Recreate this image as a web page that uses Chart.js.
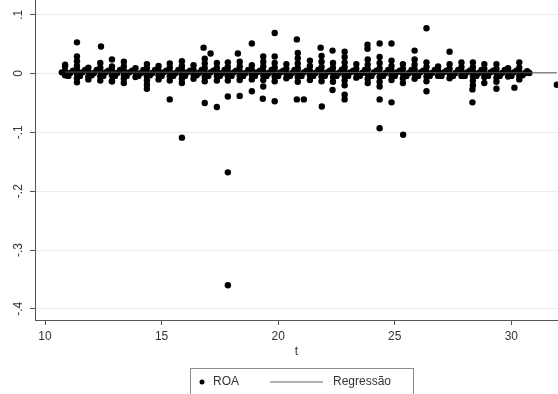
<!DOCTYPE html>
<html>
<head>
<meta charset="utf-8">
<script src="https://cdn.jsdelivr.net/npm/chart.js@4/dist/chart.umd.min.js"></script>
<style>
  body { margin: 0; background: #fff; }
  #wrap { width: 558px; height: 394px; }
</style>
</head>
<body>
<div id="wrap"><canvas id="chart" width="558" height="394"></canvas></div>
<script>
// ROA by t: the dense band around zero, one row per t cluster
const bandPoints = [
  [10.86, 0.004], [10.86, 0.012], [10.86, -0.003], [10.72, 0.002], [11.08, 0.001],
  [11.37, 0.029], [11.37, 0.021], [11.37, 0.013], [11.37, 0.006], [11.37, -0.001], [11.37, -0.008], [11.37, -0.015], [11.6, 0.002],
  [11.86, 0.010], [11.86, 0.003], [11.86, -0.005], [11.86, -0.010], [12.1, 0.001],
  [12.37, 0.018], [12.37, 0.010], [12.37, 0.003], [12.37, -0.005], [12.37, -0.012], [12.6, 0.002],
  [12.87, 0.012], [12.87, 0.005], [12.87, -0.003], [12.87, -0.013], [13.1, 0.001],
  [13.38, 0.020], [13.38, 0.012], [13.38, 0.005], [13.38, -0.002], [13.38, -0.009], [13.38, -0.016], [13.62, 0.002],
  [13.88, 0.009], [13.88, 0.002], [13.88, -0.006], [14.12, 0.001],
  [14.37, 0.016], [14.37, 0.009], [14.37, 0.002], [14.37, -0.005], [14.37, -0.012], [14.37, -0.019], [14.37, -0.026], [14.6, 0.001],
  [14.87, 0.013], [14.87, 0.005], [14.87, -0.003], [14.87, -0.010], [15.1, 0.002],
  [15.35, 0.017], [15.35, 0.010], [15.35, 0.003], [15.35, -0.005], [15.35, -0.012], [15.6, 0.001],
  [15.87, 0.021], [15.87, 0.013], [15.87, 0.006], [15.87, -0.002], [15.87, -0.009], [15.87, -0.016], [16.1, 0.002],
  [16.37, 0.014], [16.37, 0.006], [16.37, -0.002], [16.37, -0.009], [16.6, 0.001],
  [16.85, 0.025], [16.85, 0.017], [16.85, 0.009], [16.85, 0.002], [16.85, -0.006], [16.85, -0.013], [17.1, 0.002],
  [17.37, 0.018], [17.37, 0.010], [17.37, 0.003], [17.37, -0.004], [17.37, -0.012], [17.6, 0.001],
  [17.84, 0.019], [17.84, 0.011], [17.84, 0.004], [17.84, -0.004], [17.84, -0.012], [18.1, 0.002],
  [18.35, 0.020], [18.35, 0.012], [18.35, 0.004], [18.35, -0.004], [18.35, -0.011], [18.6, 0.001],
  [18.87, 0.014], [18.87, 0.006], [18.87, -0.002], [18.87, -0.010], [19.1, 0.002],
  [19.36, 0.029], [19.36, 0.020], [19.36, 0.012], [19.36, 0.004], [19.36, -0.003], [19.36, -0.011], [19.36, -0.022], [19.6, 0.001],
  [19.85, 0.029], [19.85, 0.018], [19.85, 0.010], [19.85, 0.003], [19.85, -0.005], [19.85, -0.013], [20.1, 0.002],
  [20.35, 0.016], [20.35, 0.008], [20.35, 0.000], [20.35, -0.008], [20.6, 0.001],
  [20.84, 0.035], [20.84, 0.026], [20.84, 0.017], [20.84, 0.009], [20.84, 0.002], [20.84, -0.006], [20.84, -0.014], [21.1, 0.002],
  [21.36, 0.022], [21.36, 0.013], [21.36, 0.005], [21.36, -0.003], [21.36, -0.011], [21.6, 0.001],
  [21.86, 0.030], [21.86, 0.020], [21.86, 0.011], [21.86, 0.003], [21.86, -0.005], [21.86, -0.013], [22.1, 0.002],
  [22.35, 0.018], [22.35, 0.010], [22.35, 0.002], [22.35, -0.006], [22.35, -0.014], [22.6, 0.001],
  [22.85, 0.028], [22.85, 0.019], [22.85, 0.011], [22.85, 0.004], [22.85, -0.004], [22.85, -0.012], [22.85, -0.020], [23.1, 0.002],
  [23.35, 0.016], [23.35, 0.008], [23.35, 0.001], [23.35, -0.007], [23.6, 0.001],
  [23.84, 0.024], [23.84, 0.015], [23.84, 0.007], [23.84, -0.001], [23.84, -0.009], [23.84, -0.016], [24.1, 0.002],
  [24.35, 0.028], [24.35, 0.018], [24.35, 0.009], [24.35, 0.002], [24.35, -0.006], [24.35, -0.014], [24.35, -0.022], [24.6, 0.001],
  [24.86, 0.022], [24.86, 0.013], [24.86, 0.005], [24.86, -0.003], [24.86, -0.011], [25.1, 0.002],
  [25.35, 0.016], [25.35, 0.008], [25.35, 0.000], [25.35, -0.008], [25.35, -0.016], [25.6, 0.001],
  [25.85, 0.024], [25.85, 0.015], [25.85, 0.007], [25.85, -0.001], [25.85, -0.009], [26.1, 0.002],
  [26.36, 0.019], [26.36, 0.011], [26.36, 0.003], [26.36, -0.005], [26.36, -0.013], [26.6, 0.001],
  [26.86, 0.012], [26.86, 0.004], [26.86, -0.004], [27.1, 0.002],
  [27.35, 0.016], [27.35, 0.008], [27.35, 0.000], [27.35, -0.008], [27.6, 0.001],
  [27.86, 0.019], [27.86, 0.011], [27.86, 0.004], [27.86, -0.004], [28.1, 0.002],
  [28.35, 0.019], [28.35, 0.011], [28.35, 0.004], [28.35, -0.004], [28.35, -0.012], [28.35, -0.020], [28.6, 0.001],
  [28.84, 0.016], [28.84, 0.008], [28.84, 0.000], [28.84, -0.006], [29.1, 0.002],
  [29.36, 0.016], [29.36, 0.008], [29.36, 0.001], [29.36, -0.007], [29.36, -0.014], [29.6, 0.001],
  [29.86, 0.009], [29.86, 0.002], [29.86, -0.005], [30.1, 0.002],
  [30.34, 0.019], [30.34, 0.010], [30.34, 0.003], [30.34, -0.004], [30.34, -0.010], [30.6, 0.001], [30.77, 0.001]
];

// extra ROA points that fill the band between clusters
const bridgePoints = [
  [11.0, -0.004], [11.2, 0.005], [11.5, -0.004], [11.72, 0.006], [12.0, -0.003], [12.22, 0.006],
  [12.5, -0.004], [12.72, 0.005], [13.0, -0.004], [13.22, 0.006], [13.5, -0.004], [13.74, 0.005],
  [14.0, -0.004], [14.22, 0.006], [14.5, -0.003], [14.72, 0.006], [15.0, -0.004], [15.2, 0.005],
  [15.5, -0.004], [15.72, 0.006], [16.0, -0.004], [16.22, 0.005], [16.5, -0.003], [16.72, 0.006],
  [17.0, -0.004], [17.22, 0.005], [17.5, -0.004], [17.7, 0.006], [18.0, -0.004], [18.2, 0.005],
  [18.5, -0.004], [18.72, 0.006], [19.0, -0.004], [19.22, 0.005], [19.5, -0.004], [19.72, 0.006],
  [20.0, -0.004], [20.22, 0.005], [20.5, -0.004], [20.7, 0.006], [21.0, -0.004], [21.22, 0.005],
  [21.5, -0.004], [21.72, 0.006], [22.0, -0.004], [22.22, 0.005], [22.5, -0.004], [22.72, 0.006],
  [23.0, -0.004], [23.22, 0.005], [23.5, -0.004], [23.72, 0.006], [24.0, -0.004], [24.22, 0.005],
  [24.5, -0.004], [24.72, 0.006], [25.0, -0.004], [25.22, 0.005], [25.5, -0.004], [25.72, 0.006],
  [26.0, -0.004], [26.22, 0.005], [26.5, -0.004], [26.72, 0.006], [27.0, -0.004], [27.22, 0.005],
  [27.5, -0.004], [27.72, 0.006], [28.0, -0.004], [28.22, 0.005], [28.5, -0.004], [28.72, 0.006],
  [29.0, -0.004], [29.22, 0.005], [29.5, -0.004], [29.72, 0.006], [30.0, -0.004], [30.22, 0.005],
  [30.48, -0.003], [30.68, 0.004]
];

// ROA points away from the band
const outlierPoints = [
  [11.37, 0.053], [12.4, 0.046], [12.87, 0.024], [10.86, 0.015], [12.87, -0.013],
  [15.35, -0.044], [15.87, -0.109], [16.8, 0.044], [17.1, 0.034], [16.85, -0.050],
  [17.37, -0.057], [17.84, -0.039], [17.84, -0.168], [17.84, -0.360], [18.27, 0.034],
  [18.35, -0.038], [18.87, 0.051], [18.87, -0.030], [19.34, -0.043], [19.85, 0.069],
  [19.85, -0.047], [20.8, 0.058], [20.8, -0.044], [21.1, -0.044], [21.82, 0.044],
  [21.87, -0.056], [22.33, 0.039], [22.33, -0.028], [22.85, 0.037], [22.85, -0.036],
  [22.85, -0.044], [23.83, 0.049], [23.83, 0.042], [24.35, 0.051], [24.35, -0.044],
  [24.35, -0.093], [24.86, 0.051], [24.86, -0.049], [25.36, -0.104], [25.85, 0.039],
  [26.36, 0.077], [26.36, -0.030], [27.35, 0.037], [28.33, -0.049], [28.33, -0.027],
  [28.84, -0.016], [29.36, -0.026], [30.13, -0.024], [31.95, -0.019]
];

// fitted regression line
const regT = [10.86, 31.95];
const regY = [0.0025, 0.0012];

const xTicks = [10, 15, 20, 25, 30];
const yTicks = [-0.4, -0.3, -0.2, -0.1, 0, 0.1];
const yTickLabels = ['-.4', '-.3', '-.2', '-.1', '0', '.1'];

const roaData = bandPoints.concat(bridgePoints, outlierPoints).map(p => ({ x: p[0], y: p[1] }));
const regData = regT.map((t, i) => ({ x: t, y: regY[i] }));

const fontFamily = '"Liberation Sans", Arial, sans-serif';

// y labels are drawn turned on their side, like the original
const yLabelPlugin = {
    id: 'yLabels',
    afterDraw(chart) {
        const ctx = chart.ctx;
        const yScale = chart.scales.y;
        ctx.save();
        ctx.fillStyle = '#333';
        ctx.font = '12px ' + fontFamily;
        ctx.textAlign = 'center';
        ctx.textBaseline = 'middle';
        yTicks.forEach((v, i) => {
            const py = yScale.getPixelForValue(v);
            ctx.save();
            ctx.translate(19, py);
            ctx.rotate(-Math.PI / 2);
            ctx.fillText(yTickLabels[i], 0, 0);
            ctx.restore();
        });
        ctx.restore();
    }
};

// boxed legend under the axis title
const legendPlugin = {
    id: 'boxLegend',
    afterDraw(chart) {
        const ctx = chart.ctx;
        ctx.save();
        ctx.strokeStyle = '#8a8a8a';
        ctx.lineWidth = 1;
        ctx.strokeRect(190.5, 368.5, 223, 30);
        ctx.fillStyle = '#000';
        ctx.beginPath();
        ctx.arc(202, 382, 2.5, 0, Math.PI * 2);
        ctx.fill();
        ctx.strokeStyle = '#999';
        ctx.lineWidth = 1.5;
        ctx.beginPath();
        ctx.moveTo(270, 382);
        ctx.lineTo(323, 382);
        ctx.stroke();
        ctx.fillStyle = '#333';
        ctx.font = '12px ' + fontFamily;
        ctx.textBaseline = 'middle';
        ctx.fillText('ROA', 213, 382);
        ctx.fillText('Regressão', 333, 382);
        ctx.restore();
    }
};

new Chart(document.getElementById('chart'), {
    type: 'scatter',
    data: {
        datasets: [{
            label: 'Regressão',
            data: regData,
            showLine: true,
            borderColor: '#555',
            borderWidth: 1,
            pointRadius: 0
        }, {
            label: 'ROA',
            data: roaData,
            backgroundColor: '#000',
            borderColor: '#000',
            pointRadius: 3.2,
            borderWidth: 0
        }]
    },
    options: {
        responsive: false,
        animation: false,
        layout: { padding: 0, autoPadding: false },
        plugins: {
            legend: { display: false },
            tooltip: { enabled: false }
        },
        scales: {
            x: {
                type: 'linear',
                min: 9.57,
                max: 32.0,
                afterBuildTicks: function(scale) {
                    scale.ticks = xTicks.map(v => ({ value: v }));
                },
                afterFit: function(scale) {
                    scale.height = 74;
                },
                grid: {
                    drawOnChartArea: false,
                    drawTicks: true,
                    tickLength: 5,
                    tickColor: '#555'
                },
                border: { display: true, color: '#555', width: 1 },
                ticks: {
                    color: '#333',
                    padding: 4,
                    maxRotation: 0,
                    font: { family: fontFamily, size: 12 },
                    callback: v => String(v)
                },
                title: {
                    display: true,
                    text: 't',
                    color: '#333',
                    font: { family: fontFamily, size: 12 },
                    padding: { top: 0, bottom: 35 }
                }
            },
            y: {
                type: 'linear',
                min: -0.419,
                max: 0.125,
                afterBuildTicks: function(scale) {
                    scale.ticks = yTicks.map(v => ({ value: v }));
                },
                afterFit: function(scale) {
                    scale.width = 35;
                },
                grid: {
                    color: '#ececec',
                    tickLength: 5,
                    tickColor: '#555'
                },
                border: { display: true, color: '#555', width: 1 },
                ticks: { display: false }
            }
        }
    },
    plugins: [yLabelPlugin, legendPlugin]
});
</script>
</body>
</html>
